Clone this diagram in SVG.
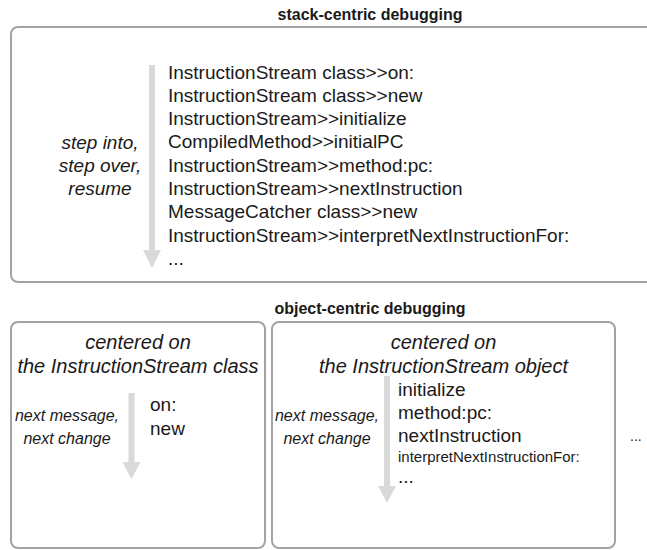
<svg xmlns="http://www.w3.org/2000/svg" width="647" height="550" viewBox="0 0 647 550">
<style>
text{font-family:"Liberation Sans",Arial,Helvetica,sans-serif;fill:#1a1a1a}
.title{font-weight:bold;font-size:16px;text-anchor:middle}
.box{fill:#fff;stroke:#a3a3a3;stroke-width:2}
.list{font-size:19px}
.small{font-size:15px}
.head{font-style:italic;font-size:20px;text-anchor:middle}
.side{font-style:italic;font-size:19px;text-anchor:middle}
.note{font-style:italic;font-size:16px;text-anchor:middle}
.dots{font-size:14px}
.arrow{fill:#d9d9d9}
</style>
<rect width="647" height="550" fill="#fff"/>
<g id="stack-centric">
<text class="title" x="370" y="20">stack-centric debugging</text>
<rect class="box" x="11" y="27" width="660" height="255" rx="7"/>
<text class="side" x="100" y="149">step into,</text>
<text class="side" x="100" y="172">step over,</text>
<text class="side" x="100" y="195">resume</text>
<g class="list">
<text x="168" y="78.5">InstructionStream class&gt;&gt;on:</text>
<text x="168" y="101.8">InstructionStream class&gt;&gt;new</text>
<text x="168" y="125.1">InstructionStream&gt;&gt;initialize</text>
<text x="168" y="148.4">CompiledMethod&gt;&gt;initialPC</text>
<text x="168" y="171.7">InstructionStream&gt;&gt;method:pc:</text>
<text x="168" y="195">InstructionStream&gt;&gt;nextInstruction</text>
<text x="168" y="218.3">MessageCatcher class&gt;&gt;new</text>
<text x="168" y="241.6">InstructionStream&gt;&gt;interpretNextInstructionFor:</text>
<text x="168" y="264.9">...</text>
</g>
</g>
<text class="title" x="370" y="314">object-centric debugging</text>
<g id="class-centered">
<rect class="box" x="11" y="322" width="254" height="226" rx="7"/>
<text class="head" x="138" y="349">centered on</text>
<text class="head" x="138" y="373">the InstructionStream class</text>
<text class="note" x="67" y="421">next message,</text>
<text class="note" x="67" y="444">next change</text>
<text class="list" x="150" y="411">on:</text>
<text class="list" x="150" y="435">new</text>
</g>
<g id="object-centered">
<rect class="box" x="272" y="322" width="343" height="226" rx="7"/>
<text class="head" x="443.5" y="349">centered on</text>
<text class="head" x="443.5" y="373">the InstructionStream object</text>
<text class="note" x="327" y="421">next message,</text>
<text class="note" x="327" y="444">next change</text>
<text class="list" x="398" y="396">initialize</text>
<text class="list" x="398" y="419">method:pc:</text>
<text class="list" x="398" y="442">nextInstruction</text>
<text class="small" x="398" y="462">interpretNextInstructionFor:</text>
<text class="list" x="398" y="483">...</text>
</g>
<text class="dots" x="630" y="441">...</text>
<g id="connectors">
<path class="arrow" d="M149,65 H155 V250 H161 L152,268 L143,250 H149 Z"/>
<path class="arrow" d="M128.5,393 H134.5 V462 H140.5 L131.5,479 L122.5,462 H128.5 Z"/>
<path class="arrow" d="M384,376 H390 V486 H396 L387,503 L378,486 H384 Z"/>
</g>
</svg>
